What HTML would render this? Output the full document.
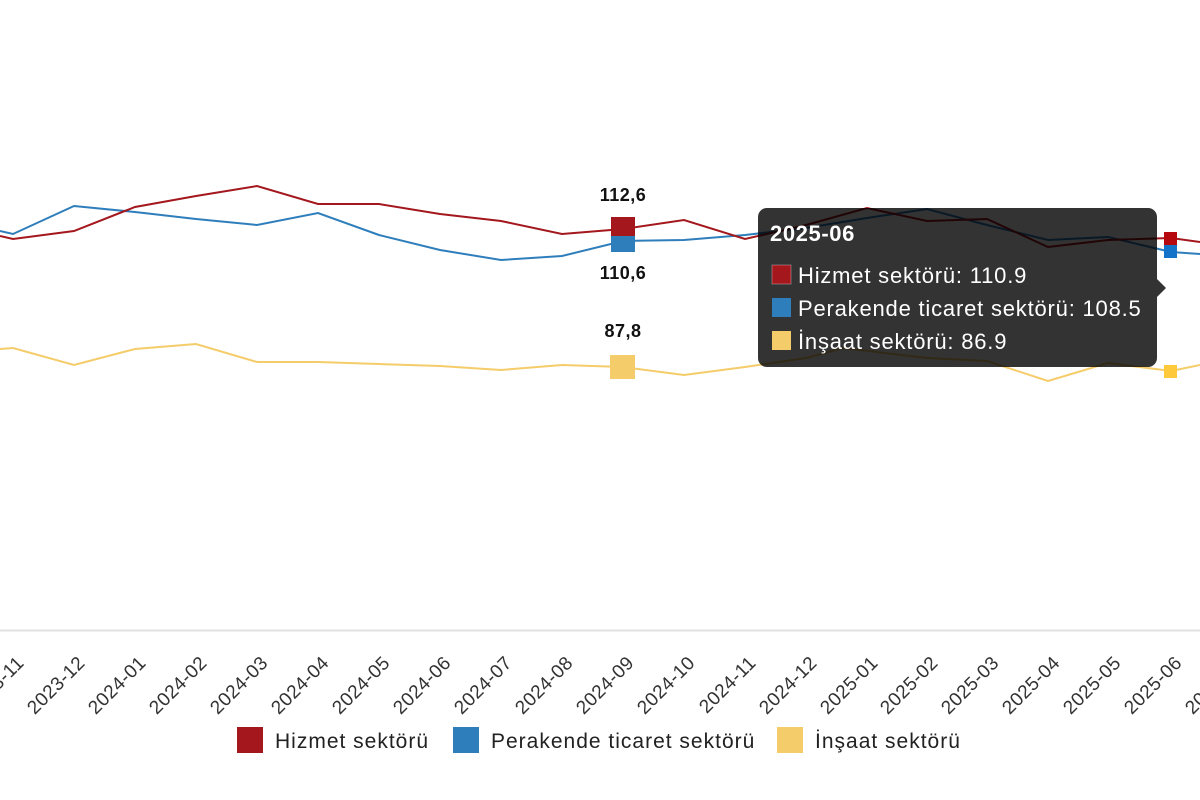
<!DOCTYPE html>
<html><head><meta charset="utf-8"><style>
body{margin:0;background:#fff;width:1200px;height:800px;overflow:hidden;font-family:"Liberation Sans",sans-serif}
</style></head><body>
<svg width="1200" height="800" xmlns="http://www.w3.org/2000/svg" style="position:absolute;left:0;top:0">
<line x1="0" y1="630.5" x2="1200" y2="630.5" stroke="#e0e0e0" stroke-width="2"/>
<polyline fill="none" stroke="#2f7ebc" stroke-width="2" points="0,231 13,234 74,206 135,212 196,219 257,225 318,213 379,235 440,250 501,260 562,256 623,241 684,240 745,235 806,228 867,218 927,209 987,225 1048,240 1108,237 1171,252 1200,254"/>
<polyline fill="none" stroke="#a3171d" stroke-width="2" points="0,236 13,239 74,231 135,207 196,196 257,186 318,204 379,204 440,214 501,221 562,234 623,229 684,220 745,239 806,225 867,208 927,221 987,219 1048,247 1108,240 1171,238 1200,242"/>
<polyline fill="none" stroke="#f5cc6a" stroke-width="2" points="0,349 13,348 74,365 135,349 196,344 257,362 318,362 379,364 440,366 501,370 562,365 623,367 684,375 745,367 806,358 843,348 927,358 987,361 1048,381 1108,363 1171,371 1200,365"/>
<rect x="611" y="217" width="24" height="24" fill="#a3171d"/>
<rect x="611" y="236" width="24" height="16" fill="#2f7ebc"/>
<rect x="611" y="232" width="24" height="4" fill="#a3171d"/>
<rect x="610" y="355" width="25" height="24" fill="#f5cc6a"/>
<g font-size="18" font-weight="bold" fill="#111" letter-spacing="0.5" text-anchor="middle">
<text x="623" y="201">112,6</text>
<text x="623" y="279">110,6</text>
<text x="623" y="337">87,8</text>
</g>
<rect x="1164" y="232" width="13" height="13" fill="#b5090f"/>
<rect x="1164" y="245" width="13" height="13" fill="#1273c9"/>
<rect x="1164" y="365" width="13" height="13" fill="#ffc93c"/>
<g font-size="19" fill="#333" letter-spacing="0.4" text-anchor="end">
<text transform="translate(25,664) rotate(-45)">2023-11</text>
<text transform="translate(86,664) rotate(-45)">2023-12</text>
<text transform="translate(147,664) rotate(-45)">2024-01</text>
<text transform="translate(208,664) rotate(-45)">2024-02</text>
<text transform="translate(269,664) rotate(-45)">2024-03</text>
<text transform="translate(330,664) rotate(-45)">2024-04</text>
<text transform="translate(391,664) rotate(-45)">2024-05</text>
<text transform="translate(452,664) rotate(-45)">2024-06</text>
<text transform="translate(513,664) rotate(-45)">2024-07</text>
<text transform="translate(574,664) rotate(-45)">2024-08</text>
<text transform="translate(635,664) rotate(-45)">2024-09</text>
<text transform="translate(696,664) rotate(-45)">2024-10</text>
<text transform="translate(757,664) rotate(-45)">2024-11</text>
<text transform="translate(818,664) rotate(-45)">2024-12</text>
<text transform="translate(879,664) rotate(-45)">2025-01</text>
<text transform="translate(939,664) rotate(-45)">2025-02</text>
<text transform="translate(1000,664) rotate(-45)">2025-03</text>
<text transform="translate(1061,664) rotate(-45)">2025-04</text>
<text transform="translate(1122,664) rotate(-45)">2025-05</text>
<text transform="translate(1183,664) rotate(-45)">2025-06</text>
<text transform="translate(1244,664) rotate(-45)">2025-07</text>
</g>
<g font-size="21" fill="#222" letter-spacing="1">
<rect x="237" y="727" width="26" height="26" fill="#a3171d"/>
<text x="275" y="748">Hizmet sektörü</text>
<rect x="453" y="727" width="26" height="26" fill="#2f7ebc"/>
<text x="491" y="748">Perakende ticaret sektörü</text>
<rect x="777" y="727" width="26" height="26" fill="#f5cc6a"/>
<text x="815" y="748">İnşaat sektörü</text>
</g>
<g>
<rect x="758" y="208" width="399" height="159" rx="9" fill="#000" fill-opacity="0.8"/>
<polygon points="1157,279 1166,288 1157,297" fill="#000" fill-opacity="0.8"/>
<text x="770" y="241" font-size="22" font-weight="bold" fill="#fff" letter-spacing="0.6">2025-06</text>
<rect x="772" y="265" width="19" height="19" fill="#a3171d" stroke="#fff" stroke-opacity="0.3"/>
<g font-size="22" fill="#fff" letter-spacing="0.8">
<text x="798" y="283">Hizmet sektörü: 110.9</text>
<text x="798" y="316">Perakende ticaret sektörü: 108.5</text>
<text x="798" y="349">İnşaat sektörü: 86.9</text>
</g>
<rect x="772" y="298" width="19" height="19" fill="#2f7ebc"/>
<rect x="772" y="331" width="19" height="19" fill="#f5cc6a"/>
</g>
</svg>
</body></html>
